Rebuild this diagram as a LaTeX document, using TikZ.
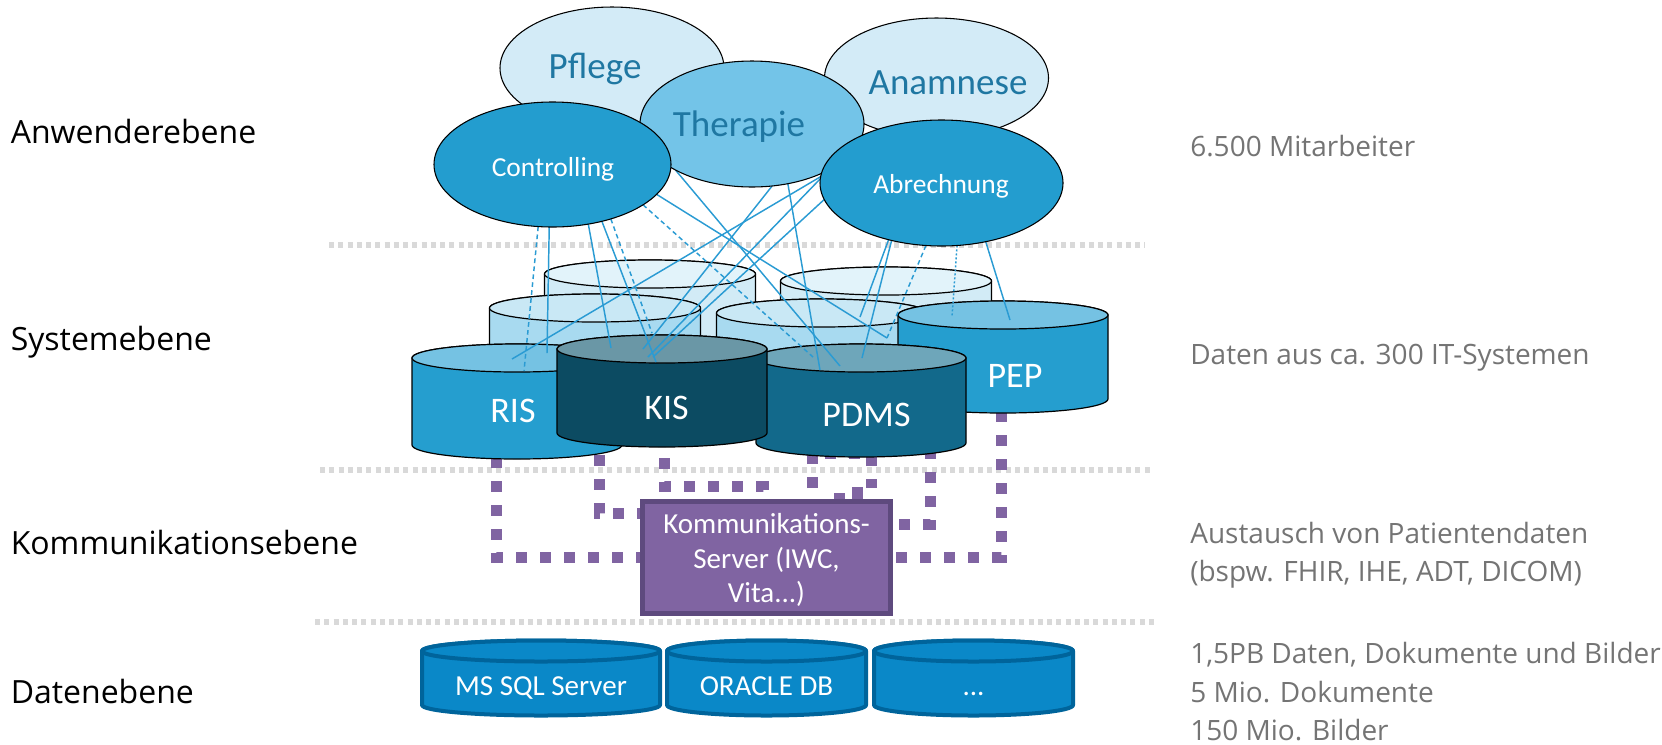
\documentclass[tikz,border=0pt]{standalone}
\usepackage{fontspec}
\setmainfont{Carlito}
\newfontfamily\osans{Open Sans}
\usetikzlibrary{shapes.geometric,calc}
\definecolor{sepgray}{HTML}{D9D9D9}
\definecolor{purp}{HTML}{8064A2}
\definecolor{purpdark}{HTML}{5E4A7E}
\definecolor{lineblue}{HTML}{2A9BD3}
\definecolor{ellLight}{HTML}{D3EBF7}
\definecolor{ellMid}{HTML}{73C4E8}
\definecolor{ellDark}{HTML}{239DCF}
\definecolor{ellText}{HTML}{1F77A2}
\definecolor{backTop}{HTML}{E2F3FA}
\definecolor{backBody}{HTML}{D2EBF6}
\definecolor{midTop}{HTML}{C9E8F5}
\definecolor{midBody}{HTML}{A8DAF0}
\definecolor{risTop}{HTML}{75C2E3}
\definecolor{risBody}{HTML}{259ECF}
\definecolor{kisTop}{HTML}{6A97A6}
\definecolor{kisBody}{HTML}{0C4B62}
\definecolor{pdmsTop}{HTML}{6EA6BA}
\definecolor{pdmsBody}{HTML}{12698B}
\definecolor{dbFill}{HTML}{0A88C8}
\definecolor{dbBorder}{HTML}{00649B}
\definecolor{rgray}{HTML}{747474}
\pgfdeclarelayer{bg}
\pgfdeclarelayer{mid}
\pgfsetlayers{bg,mid,main}
\newcommand\drawcyl[8][cylline]{%
  \filldraw[#1, fill=#7] (#2-#5,-#3) -- (#2-#5,-#4) arc[start angle=180, end angle=360, x radius=#5, y radius=#6] -- (#2+#5,-#3) arc[start angle=0, end angle=180, x radius=#5, y radius=#6] -- cycle;
  \filldraw[#1, fill=#8] (#2,-#3) ellipse[x radius=#5, y radius=#6];
}
\begin{document}
\begin{tikzpicture}[x=0.75pt,y=0.75pt,
  sepline/.style={draw=sepgray, line width=4.5pt, dash pattern=on 3.75pt off 3.2pt},
  pdash/.style={draw=purp, line width=8.25pt, dash pattern=on 8.25pt off 9.75pt},
  bl/.style={draw=lineblue, line width=1.1pt},
  bldash/.style={bl, dash pattern=on 3.5pt off 2.5pt},
  bldot/.style={bl, dash pattern=on 1.5pt off 1.5pt},
  ell/.style={ellipse, draw=black, line width=0.8pt, inner sep=0pt, outer sep=0pt},
  cylline/.style={draw=black, line width=0.9pt, line join=round},
  dbline/.style={draw=dbBorder, line width=3pt, line join=round},
  lbl/.style={font=\osans\fontsize{24pt}{29pt}\selectfont, anchor=base west, inner sep=0pt},
  rtxt/.style={font=\osans\fontsize{21pt}{25pt}\selectfont, text=rgray, anchor=base west, inner sep=0pt},
  bigtxt/.style={font=\fontsize{27.75pt}{33pt}\selectfont, text=ellText, anchor=base, inner sep=0pt},
  medtxt/.style={font=\fontsize{20.6pt}{25pt}\selectfont, text=white, anchor=base, inner sep=0pt},
  cyltxt/.style={font=\fontsize{27pt}{32pt}\selectfont, text=white, anchor=base, inner sep=0pt},
  srvtxt/.style={font=\fontsize{21.75pt}{26pt}\selectfont, text=white, anchor=base, inner sep=0pt},
]
\useasboundingbox (0,0) rectangle (1662,-744);

% ---------- background layer: separators, cylinders, purple connectors
\begin{pgfonlayer}{bg}
\coordinate (s1a) at (329,-245); \coordinate (s1b) at (1145,-245);
\coordinate (s2a) at (320,-470); \coordinate (s2b) at (1150,-470);
\coordinate (s3a) at (315,-622); \coordinate (s3b) at (1155,-622);
\draw[sepline] (s1a) -- (s1b);
\draw[sepline] (s2a) -- (s2b);
\draw[sepline] (s3a) -- (s3b);

% back and middle cylinders
\drawcyl{650}{274}{360}{105.5}{14}{backBody}{backTop}
\drawcyl{886}{281}{365}{105.5}{14}{backBody}{backTop}
\drawcyl{595}{308}{392}{105.5}{14}{midBody}{midTop}
\drawcyl{822}{313}{397}{105.5}{14}{midBody}{midTop}

% purple connector end points
\coordinate (risB1) at (496,-457);
\coordinate (risB2) at (599,-455);
\coordinate (kisB) at (664,-458);
\coordinate (pdmsB1) at (812,-488);
\coordinate (pdmsB2) at (930,-448);
\coordinate (pepB) at (1001,-411);
\coordinate (srvL1) at (640,-557);
\coordinate (srvL2) at (640,-513);
\coordinate (srvT1) at (763,-499);
\coordinate (srvR1) at (893,-557);
\coordinate (srvR2) at (893,-524);

\draw[pdash] (risB1) -- (496,-557) -- (srvL1);
\draw[pdash] (pepB) -- (1001,-557) -- (srvR1);
\draw[pdash] (risB2) -- (599,-513) -- (srvL2);
\draw[pdash] (kisB) -- (664,-486) -- (763,-486) -- (srvT1);
\draw[pdash] (pdmsB1) -- (812,-453) -- (871,-453) -- (871,-488);
\draw[pdash] (pdmsB2) -- (930,-524) -- (srvR2);
\coordinate (st1) at (857,-487); \coordinate (st2) at (839,-493);
\draw[draw=purp, line width=8.25pt] (st1) -- (857,-499);
\draw[draw=purp, line width=8.25pt] (st2) -- (839,-499);

% front cylinders
\drawcyl{1003}{315}{399}{105}{14}{risBody}{risTop}
\drawcyl{861}{358}{443}{105}{14}{pdmsBody}{pdmsTop}
\drawcyl{517}{358}{445}{105}{14}{risBody}{risTop}
\drawcyl{662}{349}{433}{105}{14}{kisBody}{kisTop}

\node[cyltxt] (ris) at (513,-422) {RIS};
\node[cyltxt] (kis) at (666.5,-419.5) {KIS};
\node[cyltxt] (pdms) at (866.5,-426) {PDMS};
\node[cyltxt] (pep) at (1015,-387.5) {PEP};
\end{pgfonlayer}

% ---------- ellipses (main layer)
\node[ell, fill=ellLight, minimum width=168pt, minimum height=91.5pt] (pfl) at (612,-68) {};
\node[bigtxt] (pflT) at (595,-78) {Pflege};
\node[ell, fill=ellLight, minimum width=168pt, minimum height=90pt] (ana) at (936.5,-78) {};
\node[bigtxt] (anaT) at (948,-94) {Anamnese};
\node[ell, fill=ellMid, minimum width=168pt, minimum height=94.5pt] (ther) at (752,-124) {};
\node[bigtxt] (therT) at (739,-136) {Therapie};
\node[ell, fill=ellDark, minimum width=177.75pt, minimum height=93.75pt] (ctrl) at (552.5,-164.5) {};
\node[medtxt] (ctrlT) at (553,-176) {Controlling};
\node[ell, fill=ellDark, minimum width=182.25pt, minimum height=94.5pt] (abr) at (941.5,-183) {};
\node[medtxt] (abrT) at (941,-193) {Abrechnung};

% ---------- blue connectors (middle layer)
\begin{pgfonlayer}{mid}
\coordinate (risA) at (524,-371);
\coordinate (risC) at (547,-353);
\coordinate (risK) at (512,-359);
\coordinate (kisA) at (611,-348);
\coordinate (kisC) at (656,-362);
\coordinate (kisD) at (652,-333);
\coordinate (kisE) at (643,-349);
\coordinate (kisF) at (648,-357);
\coordinate (kisG) at (653,-357);
\coordinate (pdmsA) at (813,-357);
\coordinate (pdmsC) at (840,-366);
\coordinate (pdmsD) at (820,-370);
\coordinate (pdmsE) at (862,-358);
\coordinate (mrA) at (887,-338);
\coordinate (mrB) at (860,-317);
\coordinate (pepA) at (952,-317);
\coordinate (pepC) at (1010,-320);

\draw[bldash] (ctrl.-103) -- (risA);
\draw[bl] (ctrl.-93) -- (risC);
\draw[bl] (ctrl.-59) -- (kisA);
\draw[bl] (ctrl.-49) -- (kisC);
\draw[bldash] (ctrl.-43) -- (kisD);
\draw[bldash] (ctrl.-24) -- (pdmsA);
\draw[bl] (ctrl.-16) -- (mrA);
\draw[bl] (ther.-149) -- (pdmsC);
\draw[bl] (ther.-72) -- (kisE);
\draw[bl] (ther.-59) -- (pdmsD);
\draw[bl] (abr.177) -- (risK);
\draw[bl] (abr.178) -- (kisF);
\draw[bl] (abr.188) -- (kisG);
\draw[bl] (abr.-133) -- (mrB);
\draw[bl] (abr.-131) -- (pdmsE);
\draw[bldash] (abr.-104.5) -- (mrA);
\draw[bldot] (abr.-76) -- (pepA);
\draw[bl] (abr.-53) -- (pepC);
\end{pgfonlayer}

% ---------- communication server
\node[draw=purpdark, fill=purp, line width=3.75pt, minimum width=186pt, minimum height=84pt, inner sep=0pt] (srv) at (766.5,-557.5) {};
\node[srvtxt] (srv1) at (766.5,-533.5) {Kommunikations-};
\node[srvtxt] (srv2) at (766.5,-568) {Server (IWC,};
\node[srvtxt] (srv3) at (766.5,-602.7) {Vita...)};

% ---------- databases
\drawcyl[dbline]{541}{651}{705}{119}{10.5}{dbFill}{dbFill}
\drawcyl[dbline]{766.5}{651}{705}{99.5}{10.5}{dbFill}{dbFill}
\drawcyl[dbline]{973.5}{651}{705}{99.5}{10.5}{dbFill}{dbFill}
\node[srvtxt] (db1) at (541,-695) {MS SQL Server};
\node[srvtxt] (db2) at (766.5,-695) {ORACLE DB};
\node[srvtxt] (db3) at (973.5,-695) {...};

% ---------- left labels
\node[lbl] (l1) at (10.5,-143) {Anwenderebene};
\node[lbl] (l2) at (10.5,-350) {Systemebene};
\node[lbl] (l3) at (10.5,-554) {Kommunikationsebene};
\node[lbl] (l4) at (10.5,-703) {Datenebene};

% ---------- right texts
\node[rtxt] (r1) at (1190,-156) {6.500 Mitarbeiter};
\node[rtxt] (r2) at (1190,-364) {Daten aus ca. 300 IT-Systemen};
\node[rtxt] (r3) at (1190,-543) {Austausch von Patientendaten};
\node[rtxt] (r4) at (1190,-581.5) {(bspw. FHIR, IHE, ADT, DICOM)};
\node[rtxt] (r5) at (1190,-663) {1,5PB Daten, Dokumente und Bilder};
\node[rtxt] (r6) at (1190,-702) {5 Mio. Dokumente};
\node[rtxt] (r7) at (1190,-740) {150 Mio. Bilder};
\end{tikzpicture}
\end{document}
